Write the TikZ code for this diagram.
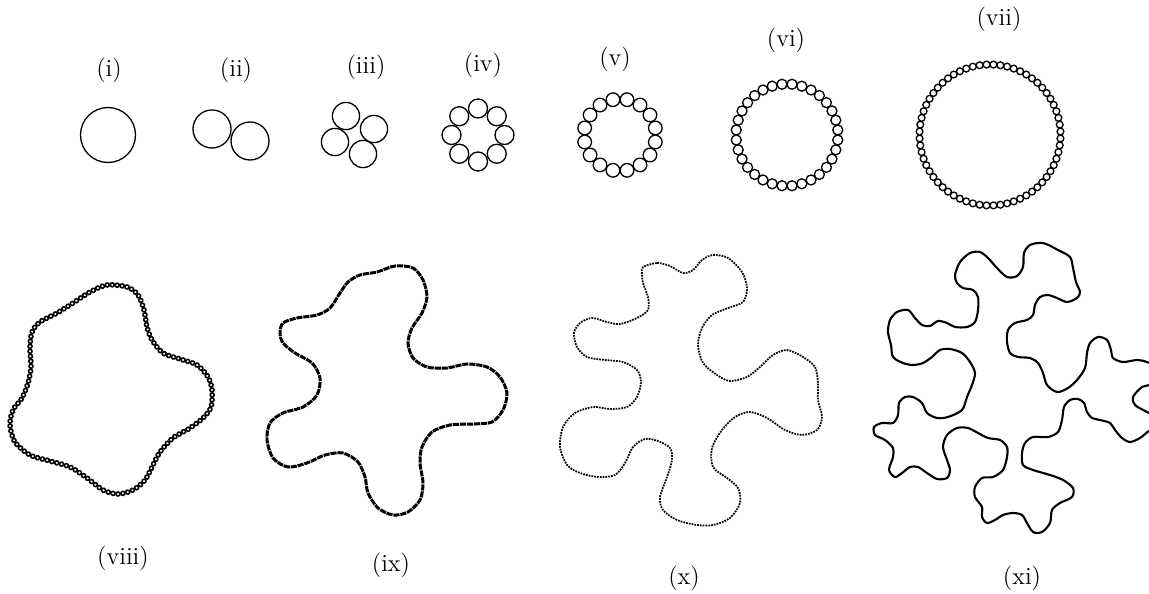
\documentclass[tikz,border=0pt]{standalone}
\usetikzlibrary{decorations.markings}

\begin{document}
\begin{tikzpicture}[x=0.02cm, y=-0.02cm,
		ring/.style={line width=0.75pt},
		tag/.style={font=\fontsize{14}{16}\selectfont, inner sep=0pt},
		beads/.style n args={3}{decorate, decoration={markings,
			mark=between positions 0 and 0.999 step #1 with {\draw[line width=#3] (0,0) circle (#2);}}}]

		\useasboundingbox (0,0) rectangle (1149,594);
		\clip (0,0) rectangle (1149,594);

		% top row
		\node[tag] (t1) at (109, 70) {(i)};
		\node[tag] (t2) at (236, 70) {(ii)};
		\node[tag] (t3) at (366, 67) {(iii)};
		\node[tag] (t4) at (483, 65) {(iv)};
		\node[tag] (t5) at (615, 59) {(v)};
		\node[tag] (t6) at (786, 40) {(vi)};
		\node[tag] (t7) at (999, 19) {(vii)};

		\draw[ring] (108,135) circle (27.5);

		\draw[ring] (212,129) circle (19);
		\draw[ring] (250,141) circle (19);

		\draw[ring] (346,116) circle (13.6);
		\draw[ring] (374,129) circle (13.6);
		\draw[ring] (335,142) circle (13.6);
		\draw[ring] (363,154) circle (13.6);

		\foreach \k in {0,...,7}
			\draw[ring] (478,135) ++(\k*45+90:26.5) circle (9.5);
		\foreach \k in {0,...,15}
			\draw[ring] (620,135) ++(\k*22.5+11.25:36) circle (6.8);
		\foreach \k in {0,...,31}
			\draw[ring] (787,135) ++(\k*11.25+5.625:51) circle (5);
		\foreach \k in {0,...,63}
			\draw[ring] (990,135) ++(\k*5.625+2.8125:70.5) circle (3.4);

		% bottom row
		\node[tag] (t8) at (123, 558) {(viii)};
		\node[tag] (t9) at (391, 565) {(ix)};
		\node[tag] (t10) at (684, 578) {(x)};
		\node[tag] (t11) at (1022, 578) {(xi)};

		\path[beads={0.0078125}{2}{0.9pt}] plot[smooth cycle] coordinates {
			(107,285) (127,287) (138,295) (144,310) (147,327) (152,340) (163,353)
			(180,359) (197,365) (208,377) (212,390) (211,407) (203,418) (190,428)
			(173,438) (160,452) (153,465) (145,480) (133,490) (118,494) (103,490)
			(87,478) (70,467) (50,461) (30,455) (15,442) (10,425) (13,410) (22,398)
			(28,383) (31,367) (30,348) (32,332) (40,322) (57,313) (73,303) (90,292)};

		\draw[line width=1.7pt, dash pattern=on 3.5pt off 0.5pt] plot[smooth cycle] coordinates {
			(360,275) (377,272) (395,266) (413,268) (423,280) (427,297) (422,313)
			(412,328) (408,343) (413,358) (427,367) (447,368) (467,364) (487,367)
			(500,377) (507,393) (503,410) (492,422) (473,424) (450,425) (432,432)
			(422,447) (420,463) (423,483) (420,500) (408,512) (393,515) (378,508)
			(368,493) (365,477) (358,462) (343,453) (325,455) (307,463) (288,467)
			(273,458) (267,440) (270,423) (283,413) (303,407) (317,395) (320,378)
			(312,363) (295,353) (283,343) (280,333) (283,323) (297,318) (317,315)
			(330,308) (340,293) (348,282)};

		\draw[line width=1pt, dash pattern=on 1pt off 0.6pt] plot[smooth cycle] coordinates {
			(643,267) (657,263) (670,266) (683,273) (693,270) (702,260) (713,255)
			(728,258) (742,272) (747,288) (743,302) (728,308) (712,315) (702,328)
			(698,345) (703,363) (717,375) (730,381) (747,377) (760,367) (773,355)
			(787,350) (803,357) (815,367) (818,383) (818,400) (822,417) (817,430)
			(802,435) (785,430) (767,418) (750,412) (735,417) (722,430) (712,448)
			(713,467) (727,478) (738,488) (740,503) (730,518) (713,525) (697,525)
			(677,520) (663,510) (660,497) (667,477) (672,460) (670,448) (658,441)
			(645,439) (633,447) (625,463) (615,475) (598,477) (580,473) (567,465)
			(560,447) (563,427) (575,413) (593,407) (610,409) (627,407) (637,397)
			(641,382) (637,370) (623,362) (605,360) (587,357) (577,347) (574,333)
			(580,323) (592,318) (607,322) (620,324) (637,318) (648,310) (648,297)
			(643,283) (642,273)};

		\draw[line width=1.2pt] plot[smooth cycle] coordinates {
			(955,275) (960,262) (970,253) (980,252) (988,258) (997,268) (1007,277)
			(1017,276) (1023,267) (1024,253) (1030,245) (1043,243) (1058,250)
			(1070,257) (1073,268) (1076,282) (1080,292) (1077,298) (1067,302)
			(1057,298) (1048,295) (1040,297) (1035,305) (1033,315) (1027,320)
			(1015,323) (1008,330) (1007,342) (1010,353) (1018,357) (1030,358)
			(1038,363) (1043,373) (1047,385) (1057,392) (1068,388) (1077,380)
			(1085,368) (1087,353) (1090,343) (1098,337) (1107,340) (1111,350)
			(1113,358) (1123,362) (1137,360) (1147,362) (1158,368) (1160,380)
			(1150,385) (1142,387) (1133,397) (1135,405) (1147,412) (1158,418)
			(1158,428) (1149,431) (1140,438) (1130,442) (1122,438) (1115,430)
			(1110,423) (1100,420) (1092,418) (1087,412) (1084,403) (1078,399)
			(1070,400) (1064,407) (1062,420) (1058,432) (1048,437) (1033,437)
			(1025,443) (1022,453) (1023,465) (1033,470) (1050,475) (1063,480)
			(1073,488) (1072,497) (1060,503) (1052,510) (1050,523) (1042,532)
			(1033,532) (1027,523) (1022,515) (1013,513) (1003,515) (995,520)
			(987,523) (982,517) (982,507) (975,497) (975,487) (982,478) (993,477)
			(1003,470) (1007,457) (1007,447) (1000,440) (988,438) (978,433)
			(968,428) (957,428) (947,435) (943,447) (947,460) (950,470) (947,478)
			(937,479) (927,473) (918,467) (910,467) (902,473) (895,477) (889,470)
			(893,457) (893,448) (885,440) (875,435) (874,427) (882,423) (893,423)
			(898,415) (899,403) (905,397) (913,397) (922,403) (927,413) (937,418)
			(948,417) (962,410) (967,397) (972,385) (975,373) (970,362) (962,353)
			(950,349) (940,350) (932,357) (923,363) (913,365) (903,363) (893,357)
			(891,345) (888,332) (890,320) (897,312) (908,310) (915,318) (922,325)
			(930,326) (938,321) (947,323) (955,327) (967,327) (975,322) (978,310)
			(978,297) (973,290) (963,288) (957,283)};
	\end{tikzpicture}
\end{document}
